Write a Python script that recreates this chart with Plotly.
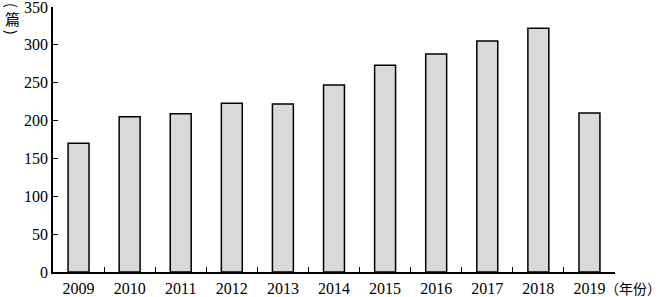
import plotly.graph_objects as go

years = ["2009", "2010", "2011", "2012", "2013", "2014", "2015", "2016", "2017", "2018", "2019"]
counts = [170, 205, 209, 223, 222, 247, 273, 288, 305, 322, 210]
y_ticks = [0, 50, 100, 150, 200, 250, 300, 350]

fig = go.Figure()
fig.add_trace(go.Bar(
    x=years, y=counts, width=0.41,
    marker=dict(color="#d9d9d9", line=dict(color="black", width=1.5)),
))

font_serif = dict(family="Liberation Serif, Times New Roman, serif", size=16, color="black")

L, R, T, B = 53, 50, 7, 25
PW, PH = 665 - L - R, 297 - T - B

def px_x(x):
    return (x - L) / PW

def px_y(y):
    return (297 - B - y) / PH

fig.update_layout(
    width=665, height=297,
    margin=dict(l=L, r=R, t=T, b=B),
    plot_bgcolor="white", paper_bgcolor="white",
    showlegend=False,
    bargap=0.59,
    xaxis=dict(
        type="category", showline=True, linecolor="black", linewidth=1.5,
        ticks="inside", ticklen=5, tickwidth=1, tickcolor="black",
        tickson="boundaries", showgrid=False, tickfont=font_serif,
        automargin=False, ticklabelstandoff=1, ticklabeloverflow="allow",
    ),
    yaxis=dict(
        range=[0, 350], tickvals=y_ticks, showline=True, linecolor="black", linewidth=1.5,
        ticks="inside", ticklen=5, tickwidth=1, tickcolor="black",
        showgrid=False, zeroline=False, tickfont=font_serif, automargin=False,
        ticklabeloverflow="allow",
    ),
    annotations=[
        dict(text="(", xref="paper", yref="paper", x=px_x(12), y=px_y(5),
             xanchor="center", yanchor="middle", showarrow=False, textangle=90,
             font=dict(family="Noto Sans CJK SC", size=14, color="black")),
        dict(text="篇", xref="paper", yref="paper", x=px_x(12), y=px_y(18),
             xanchor="center", yanchor="middle", showarrow=False,
             font=dict(family="Noto Sans CJK SC", size=15, color="black")),
        dict(text=")", xref="paper", yref="paper", x=px_x(12), y=px_y(32),
             xanchor="center", yanchor="middle", showarrow=False, textangle=90,
             font=dict(family="Noto Sans CJK SC", size=14, color="black")),
        dict(text="（年份）", xref="paper", yref="paper", x=px_x(663), y=px_y(288),
             xanchor="right", yanchor="middle", showarrow=False,
             font=dict(family="Noto Sans CJK SC", size=14, color="black")),
    ],
)

fig.write_html("out.html")
